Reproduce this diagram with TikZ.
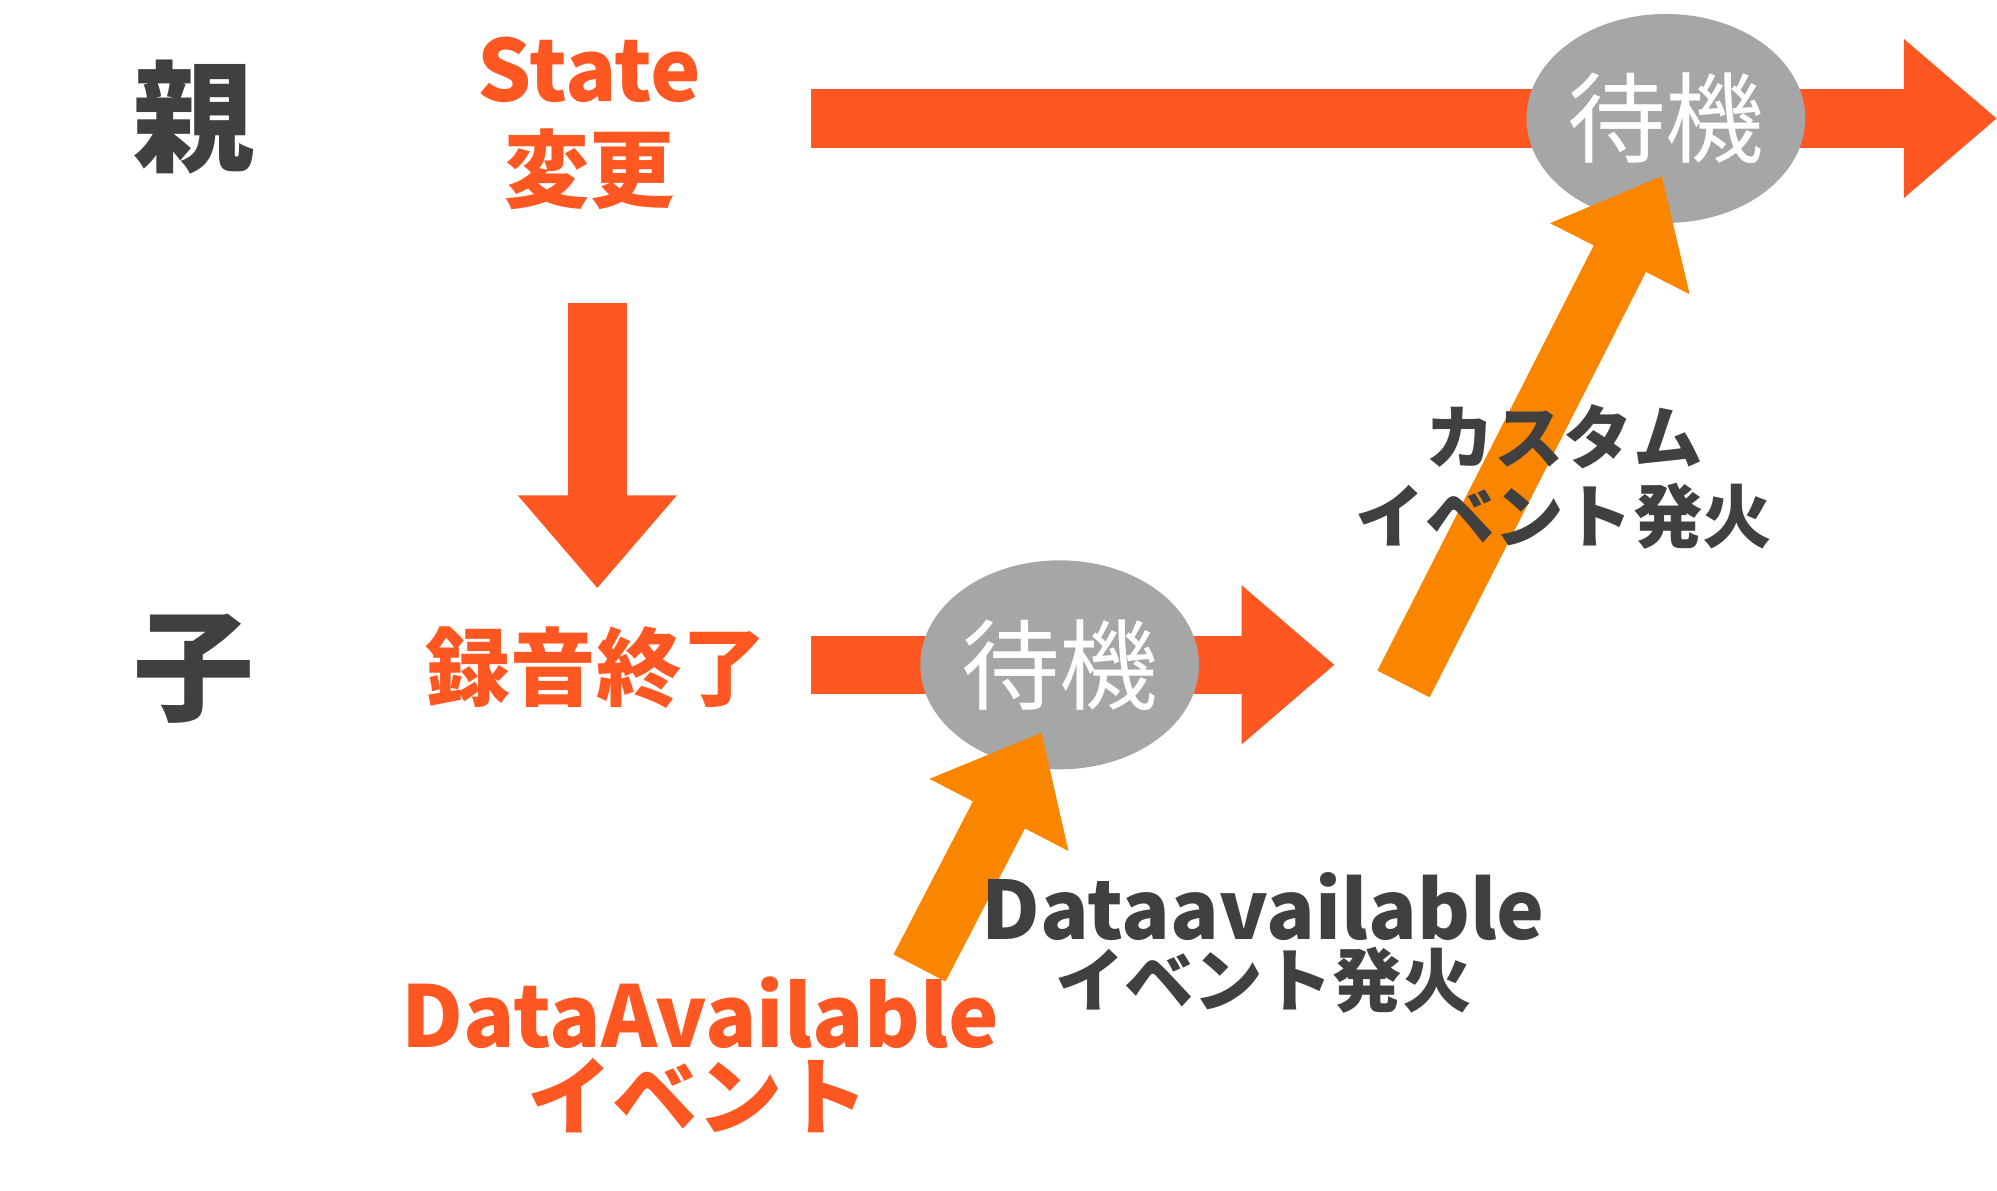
\documentclass[tikz,border=0pt]{standalone}
\usepackage{fontspec}
\newfontfamily\cjk{Noto Sans CJK JP}
\usetikzlibrary{arrows.meta,shapes.geometric}
\definecolor{flowred}{HTML}{FF5722}
\definecolor{evorange}{HTML}{FA8600}
\definecolor{darktxt}{HTML}{404040}
\definecolor{waitgray}{HTML}{A6A6A6}
\tikzset{
  flow/.style={flowred, line width=0.46cm, -{Triangle[length=0.73cm,width=1.2cm]}},
  fire/.style={evorange, line width=0.46cm, -{Triangle[length=0.73cm,width=1.18cm]}},
  waitnode/.style={ellipse, fill=waitgray, minimum width=2.04cm, minimum height=1.64cm,
    inner sep=0pt, text=white, font=\cjk\fontsize{22}{24}\selectfont},
  redlabel/.style={text=flowred, font=\cjk\bfseries\fontsize{19}{21}\selectfont, inner sep=0pt},
  graylabel/.style={text=darktxt, font=\cjk\bfseries\fontsize{15.5}{17}\selectfont, inner sep=0pt},
  rowlabel/.style={text=darktxt, font=\cjk\bfseries\fontsize{27}{29}\selectfont, inner sep=0pt}
}
\begin{document}
\begin{tikzpicture}[x=0.01cm,y=-0.01cm]
        \useasboundingbox (0,0) rectangle (1568,935);
        % row labels
        \node[rowlabel] (parent) at (152,92) {親};
        \node[rowlabel] (child) at (152,525) {子};
        % state change
        \node[redlabel] (state) at (463,55) {State};
        \node[redlabel] (change) at (463,133) {変更};
        \node[redlabel] (recend) at (468,524) {録音終了};
        % main flow arrows
        \coordinate (topA) at (637,93);
        \coordinate (topB) at (1568,93);
        \coordinate (downA) at (469,238);
        \coordinate (downB) at (469,462);
        \coordinate (lowA) at (637,522);
        \coordinate (lowB) at (1048,522);
        \draw[flow] (topA) -- (topB);
        \draw[flow] (downA) -- (downB);
        \draw[flow] (lowA) -- (lowB);
        % waiting states
        \node[waitnode] (waittop) at (1308,93) {待機};
        \node[waitnode] (waitlow) at (832,522) {待機};
        % event arrows
        \coordinate (evA) at (722,760);
        \coordinate (evB) at (818,575);
        \coordinate (cuA) at (1102,537);
        \coordinate (cuB) at (1305,138);
        \draw[fire] (evA) -- (evB);
        \draw[fire] (cuA) -- (cuB);
        % event labels
        \node[graylabel] (custom1) at (1228,343) {カスタム};
        \node[graylabel] (custom2) at (1228,405) {イベント発火};
        \node[graylabel, font=\cjk\bfseries\fontsize{18}{20}\selectfont] (dav1) at (992,712) {Dataavailable};
        \node[graylabel] (dav2) at (992,770) {イベント発火};
        \node[redlabel] (dA1) at (550,795) {DataAvailable};
        \node[redlabel] (dA2) at (548,860) {イベント};
\end{tikzpicture}
\end{document}
